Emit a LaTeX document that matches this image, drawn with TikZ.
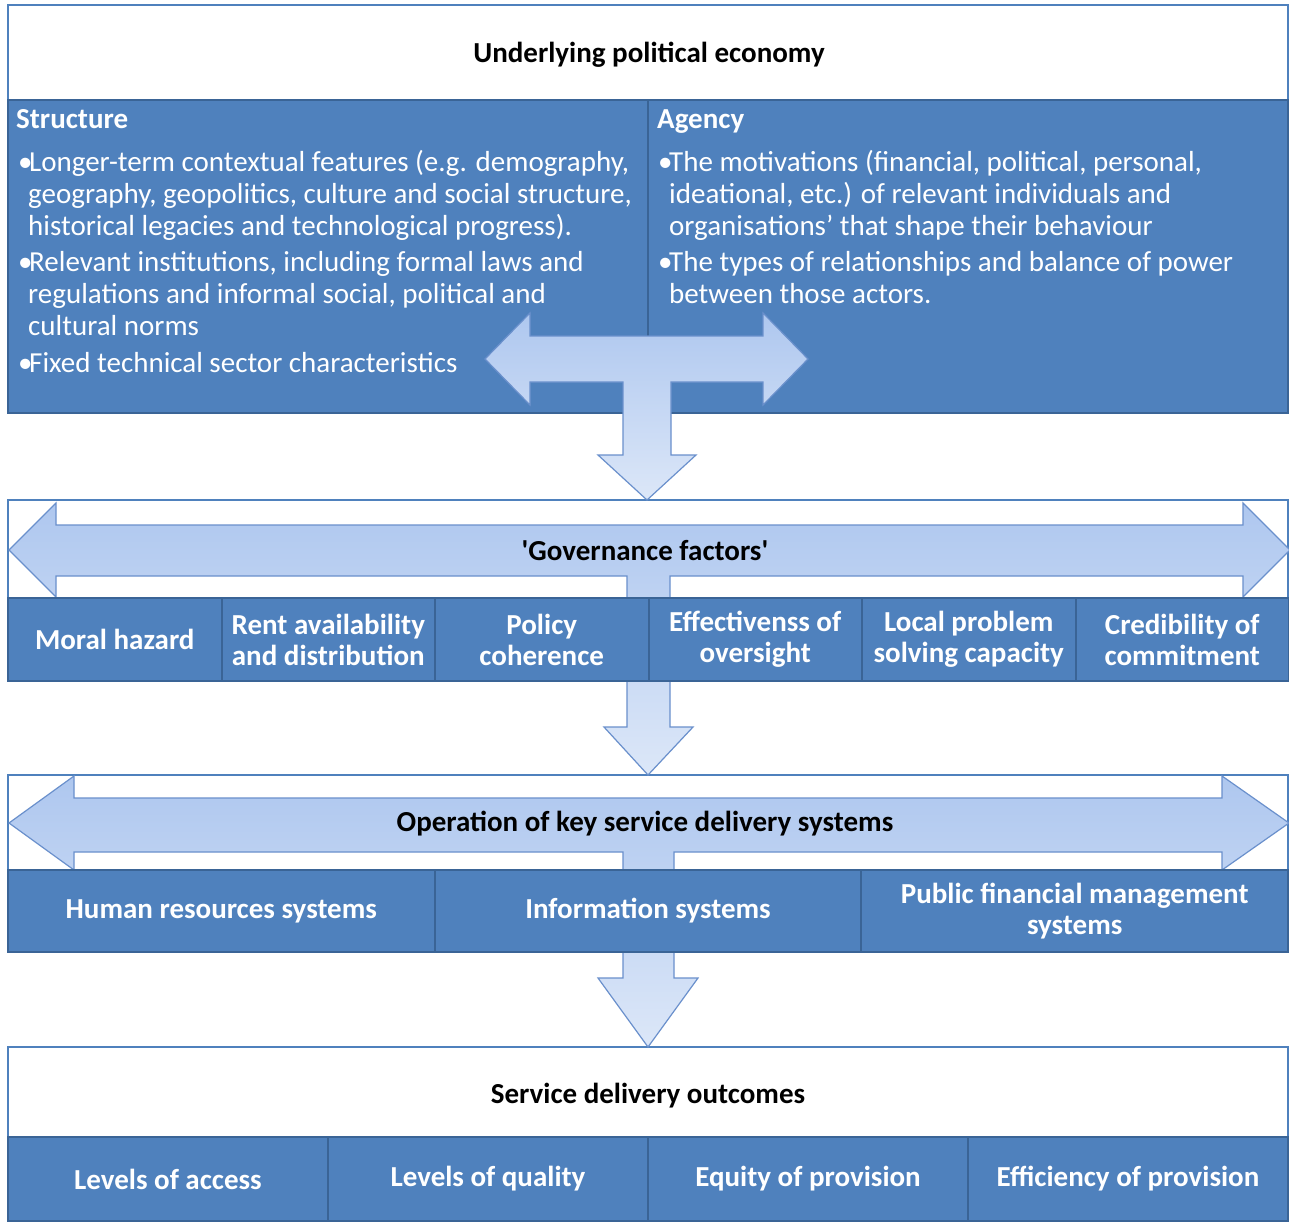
\documentclass[tikz,border=0pt]{standalone}
\usepackage{fontspec}
\setmainfont{Carlito}
\definecolor{dkblue}{HTML}{4F81BD}
\definecolor{dkedge}{HTML}{3A6496}
\definecolor{frameblue}{HTML}{4F81BD}
\definecolor{arrtop}{HTML}{AEC7EF}
\definecolor{arrbot}{HTML}{DCE7F8}
\definecolor{arredge}{HTML}{6A90CC}
\begin{document}
\begin{tikzpicture}[x=1pt,y=-1pt,
  whiteframe/.style={draw=frameblue, line width=2pt, fill=white, inner sep=0pt},
  panel/.style={draw=dkedge, line width=2pt, fill=dkblue, inner sep=0pt},
  blockarrow/.style={draw=arredge, line width=1.2pt, top color=arrtop, bottom color=arrbot, line join=miter},
  boxlabel/.style={font=\bfseries\fontsize{29}{31}\selectfont, text=white, align=center},
  sectiontitle/.style={font=\bfseries\fontsize{29}{31}\selectfont, text=black},
  bodyline/.style={font=\fontsize{29}{32}\selectfont, text=white, anchor=base west, inner sep=0pt},
  headline/.style={font=\bfseries\fontsize{29}{32}\selectfont, text=white, anchor=base west, inner sep=0pt},
  govbox/.style={panel, minimum width=213.5pt, minimum height=83pt},
  sysbox/.style={panel, minimum width=426.67pt, minimum height=82pt},
  outbox/.style={panel, minimum width=320pt, minimum height=84pt}
]
\useasboundingbox[fill=white] (0,0) rectangle (1289,1223);

% frames
\node[whiteframe, minimum width=1280pt, minimum height=95pt] (topframe) at (648,52.5) {};
\node[sectiontitle] (toptitle) at (649,55) {Underlying political economy};
\node[panel, minimum width=640pt, minimum height=313pt] (structure) at (328,256.5) {};
\node[panel, minimum width=640pt, minimum height=313pt] (agency) at (968,256.5) {};
\node[whiteframe, minimum width=1280pt, minimum height=98pt] (govframe) at (648,549) {};
\node[whiteframe, minimum width=1280pt, minimum height=95pt] (opframe) at (648,822.5) {};
\node[whiteframe, minimum width=1280pt, minimum height=90pt] (outframe) at (648,1092) {};

% structure text
\node[headline] (sh) at (16,128) {Structure};
\node[bodyline] (s1) at (18,171) {\makebox[11pt][l]{\textbullet}Longer-term contextual features (e.g. demography,};
\node[bodyline] (s2) at (28,203) {geography, geopolitics, culture and social structure,};
\node[bodyline] (s3) at (28,235) {historical legacies and technological progress).};
\node[bodyline] (s4) at (18,271) {\makebox[11pt][l]{\textbullet}Relevant institutions, including formal laws and};
\node[bodyline] (s5) at (28,303) {regulations and informal social, political and};
\node[bodyline] (s6) at (28,335) {cultural norms};
\node[bodyline] (s7) at (18,372) {\makebox[11pt][l]{\textbullet}Fixed technical sector characteristics};

% agency text
\node[headline] (ah) at (657,128) {Agency};
\node[bodyline] (a1) at (658,171) {\makebox[11pt][l]{\textbullet}The motivations (financial, political, personal,};
\node[bodyline] (a2) at (669,203) {ideational, etc.) of relevant individuals and};
\node[bodyline] (a3) at (669,235) {organisations’ that shape their behaviour};
\node[bodyline] (a4) at (658,271) {\makebox[11pt][l]{\textbullet}The types of relationships and balance of power};
\node[bodyline] (a5) at (669,303) {between those actors.};

% block arrows
\path[blockarrow] (485,359) -- (530,313) -- (530,336) -- (763,336) -- (763,313) -- (808,359)
  -- (763,405) -- (763,382) -- (671,382) -- (671,455) -- (696,455) -- (647,500) -- (598,455)
  -- (623,455) -- (623,382) -- (530,382) -- (530,405) -- cycle;
\path[blockarrow] (9,550) -- (56,503) -- (56,525) -- (1243,525) -- (1243,503) -- (1290,550)
  -- (1243,597) -- (1243,576) -- (670,576) -- (670,727) -- (693,727) -- (648,775) -- (604,727)
  -- (627,727) -- (627,576) -- (56,576) -- (56,597) -- cycle;
\path[blockarrow] (9,823) -- (74,776) -- (74,798) -- (1222,798) -- (1222,776) -- (1289,823)
  -- (1222,870) -- (1222,852) -- (674,852) -- (674,978) -- (698,978) -- (648,1047) -- (598,978)
  -- (623,978) -- (623,852) -- (74,852) -- (74,870) -- cycle;

\node[sectiontitle] (govtitle) at (645,551) {\textquotesingle Governance factors\textquotesingle};
\node[sectiontitle] (optitle) at (645,824) {Operation of key service delivery systems};
\node[sectiontitle] (outtitle) at (648,1096) {Service delivery outcomes};

% governance factor boxes
\node[govbox] (g1) at (114.75,639.5) {};
\node[govbox] (g2) at (328.25,639.5) {};
\node[govbox] (g3) at (541.75,639.5) {};
\node[govbox] (g4) at (755.25,639.5) {};
\node[govbox] (g5) at (968.75,639.5) {};
\node[govbox] (g6) at (1182.25,639.5) {};
\node[boxlabel] (g1t) at (g1) {Moral hazard};
\node[boxlabel] (g2t) at (g2) {Rent availability\\and distribution};
\node[boxlabel] (g3t) at (g3) {Policy\\coherence};
\node[boxlabel] (g4t) at (g4) {Effectivenss of\\oversight};
\node[boxlabel] (g5t) at (g5) {Local problem\\solving capacity};
\node[boxlabel] (g6t) at (g6) {Credibility of\\commitment};

% systems boxes
\node[sysbox] (y1) at (221.3,911) {};
\node[sysbox] (y2) at (648,911) {};
\node[sysbox] (y3) at (1074.7,911) {};
\node[boxlabel] (y1t) at (y1) {Human resources systems};
\node[boxlabel] (y2t) at (y2) {Information systems};
\node[boxlabel] (y3t) at (y3) {Public financial management\\systems};

% outcome boxes
\node[outbox] (o1) at (168,1179) {};
\node[outbox] (o2) at (488,1179) {};
\node[outbox] (o3) at (808,1179) {};
\node[outbox] (o4) at (1128,1179) {};
\node[boxlabel] (o1t) at (o1) {Levels of access};
\node[boxlabel] (o2t) at (o2) {Levels of quality};
\node[boxlabel] (o3t) at (o3) {Equity of provision};
\node[boxlabel] (o4t) at (o4) {Efficiency of provision};
\end{tikzpicture}
\end{document}
